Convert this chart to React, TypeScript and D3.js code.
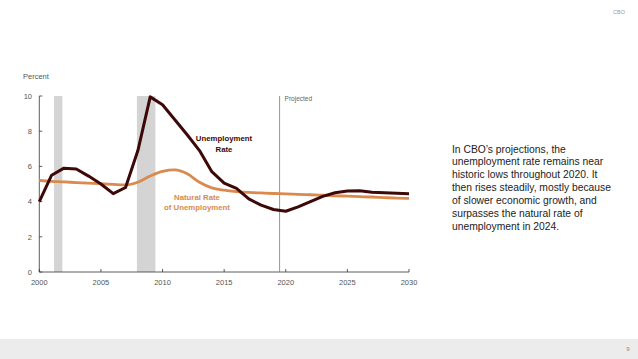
import { useEffect } from 'react';
import * as d3 from 'd3';

// annual values
const years = [2000, 2001, 2002, 2003, 2004, 2005, 2006, 2007, 2008, 2009, 2010,
  2011, 2012, 2013, 2014, 2015, 2016, 2017, 2018, 2019, 2020,
  2021, 2022, 2023, 2024, 2025, 2026, 2027, 2028, 2029, 2030];
const unemployment = [4.0, 5.5, 5.9, 5.85, 5.45, 5.0, 4.45, 4.8, 6.9, 9.95, 9.5,
  8.65, 7.8, 6.9, 5.7, 5.05, 4.75, 4.15, 3.8, 3.55, 3.45,
  3.7, 4.0, 4.3, 4.5, 4.6, 4.62, 4.53, 4.5, 4.47, 4.45];
const naturalRate = [5.2, 5.15, 5.12, 5.08, 5.05, 5.02, 4.98, 4.95, 5.1, 5.45, 5.72,
  5.8, 5.58, 5.1, 4.78, 4.65, 4.57, 4.52, 4.49, 4.46, 4.44,
  4.41, 4.39, 4.36, 4.33, 4.31, 4.28, 4.26, 4.23, 4.2, 4.18];
const recessions = [[2001.2, 2001.87], [2007.92, 2009.42]];
const projectedStart = 2019.5;
const yTicks = [0, 2, 4, 6, 8, 10];
const xTicks = [2000, 2005, 2010, 2015, 2020, 2025, 2030];
const noteLines = [
  'In CBO\u2019s projections, the',
  'unemployment rate remains near',
  'historic lows throughout 2020. It',
  'then rises steadily, mostly because',
  'of slower economic growth, and',
  'surpasses the natural rate of',
  'unemployment in 2024.',
];

const W = 638, H = 359;
const margin = { left: 39.3, right: 229, top: 96, bottom: 87 };

const App = () => {
  useEffect(() => {
    document.body.style.margin = '0';
  }, []);

  const x = d3.scaleLinear().domain([2000, 2030]).range([margin.left, W - margin.right]);
  const y = d3.scaleLinear().domain([0, 10]).range([H - margin.bottom, margin.top]);

  const line = d3.line<number>()
    .x((_, i) => x(years[i]))
    .y(d => y(d));

  // the natural rate is a gentle curve
  const smooth = d3.line<number>()
    .x((_, i) => x(years[i]))
    .y(d => y(d))
    .curve(d3.curveMonotoneX);

  const axisColor = '#333';
  const labelColor = '#555';
  const font = 'Liberation Sans, Arial, sans-serif';

  return (
    <svg width={W} height={H} style={{ display: 'block', background: '#fff' }} fontFamily={font}>
      <text x={619} y={14} fontSize={5.5} fill="#999" textAnchor="middle">CBO</text>

      <text x={23} y={79} fontSize={7.5} fill={labelColor}>Percent</text>

      {recessions.map(([a, b], i) => (
        <rect key={i} x={x(a)} y={y(10)} width={x(b) - x(a)} height={y(0) - y(10)} fill="#d4d4d4" />
      ))}

      {/* y axis */}
      <line x1={x(2000)} x2={x(2000)} y1={y(0)} y2={y(10)} stroke={axisColor} strokeWidth={0.8} />
      {yTicks.map(t => (
        <g key={t}>
          <line x1={x(2000)} x2={x(2000) + 3} y1={y(t)} y2={y(t)} stroke={axisColor} strokeWidth={0.8} />
          <text x={32} y={y(t) + 2.7} fontSize={7.5} fill={labelColor} textAnchor="end">{t}</text>
        </g>
      ))}

      {/* x axis */}
      <line x1={x(2000)} x2={x(2030)} y1={y(0)} y2={y(0)} stroke={axisColor} strokeWidth={0.8} />
      {xTicks.map(t => (
        <g key={t}>
          <line x1={x(t)} x2={x(t)} y1={y(0)} y2={y(0) - 3} stroke={axisColor} strokeWidth={0.8} />
          <text x={x(t)} y={y(0) + 13} fontSize={7.5} fill={labelColor} textAnchor="middle">{t}</text>
        </g>
      ))}

      {/* projected marker */}
      <line x1={x(projectedStart)} x2={x(projectedStart)} y1={y(10)} y2={y(0)} stroke="#777" strokeWidth={0.8} />
      <text x={x(projectedStart) + 5} y={y(10) + 5} fontSize={6.5} fill="#666">Projected</text>

      <path d={smooth(naturalRate) || ''} fill="none" stroke="#d98a4c" strokeWidth={2.8} strokeLinejoin="round" />
      <path d={line(unemployment) || ''} fill="none" stroke="#3d0808" strokeWidth={3} strokeLinejoin="round" />

      <text x={224} y={141} fontSize={7.8} fontWeight="bold" fill="#3d0808" textAnchor="middle">Unemployment</text>
      <text x={224} y={152} fontSize={7.8} fontWeight="bold" fill="#3d0808" textAnchor="middle">Rate</text>

      <text x={197} y={199.5} fontSize={7.8} fontWeight="bold" fill="#d98a4c" textAnchor="middle">Natural Rate</text>
      <text x={197} y={210} fontSize={7.8} fontWeight="bold" fill="#d98a4c" textAnchor="middle">of Unemployment</text>

      {noteLines.map((s, i) => (
        <text key={i} x={452} y={152.5 + i * 12.9} fontSize={10.3} fill="#222">{s}</text>
      ))}

      <rect x={0} y={339} width={W} height={H - 339} fill="#ececec" />
      <text x={628} y={351} fontSize={6} fill="#888" textAnchor="middle">9</text>
    </svg>
  );
};

export default App;
